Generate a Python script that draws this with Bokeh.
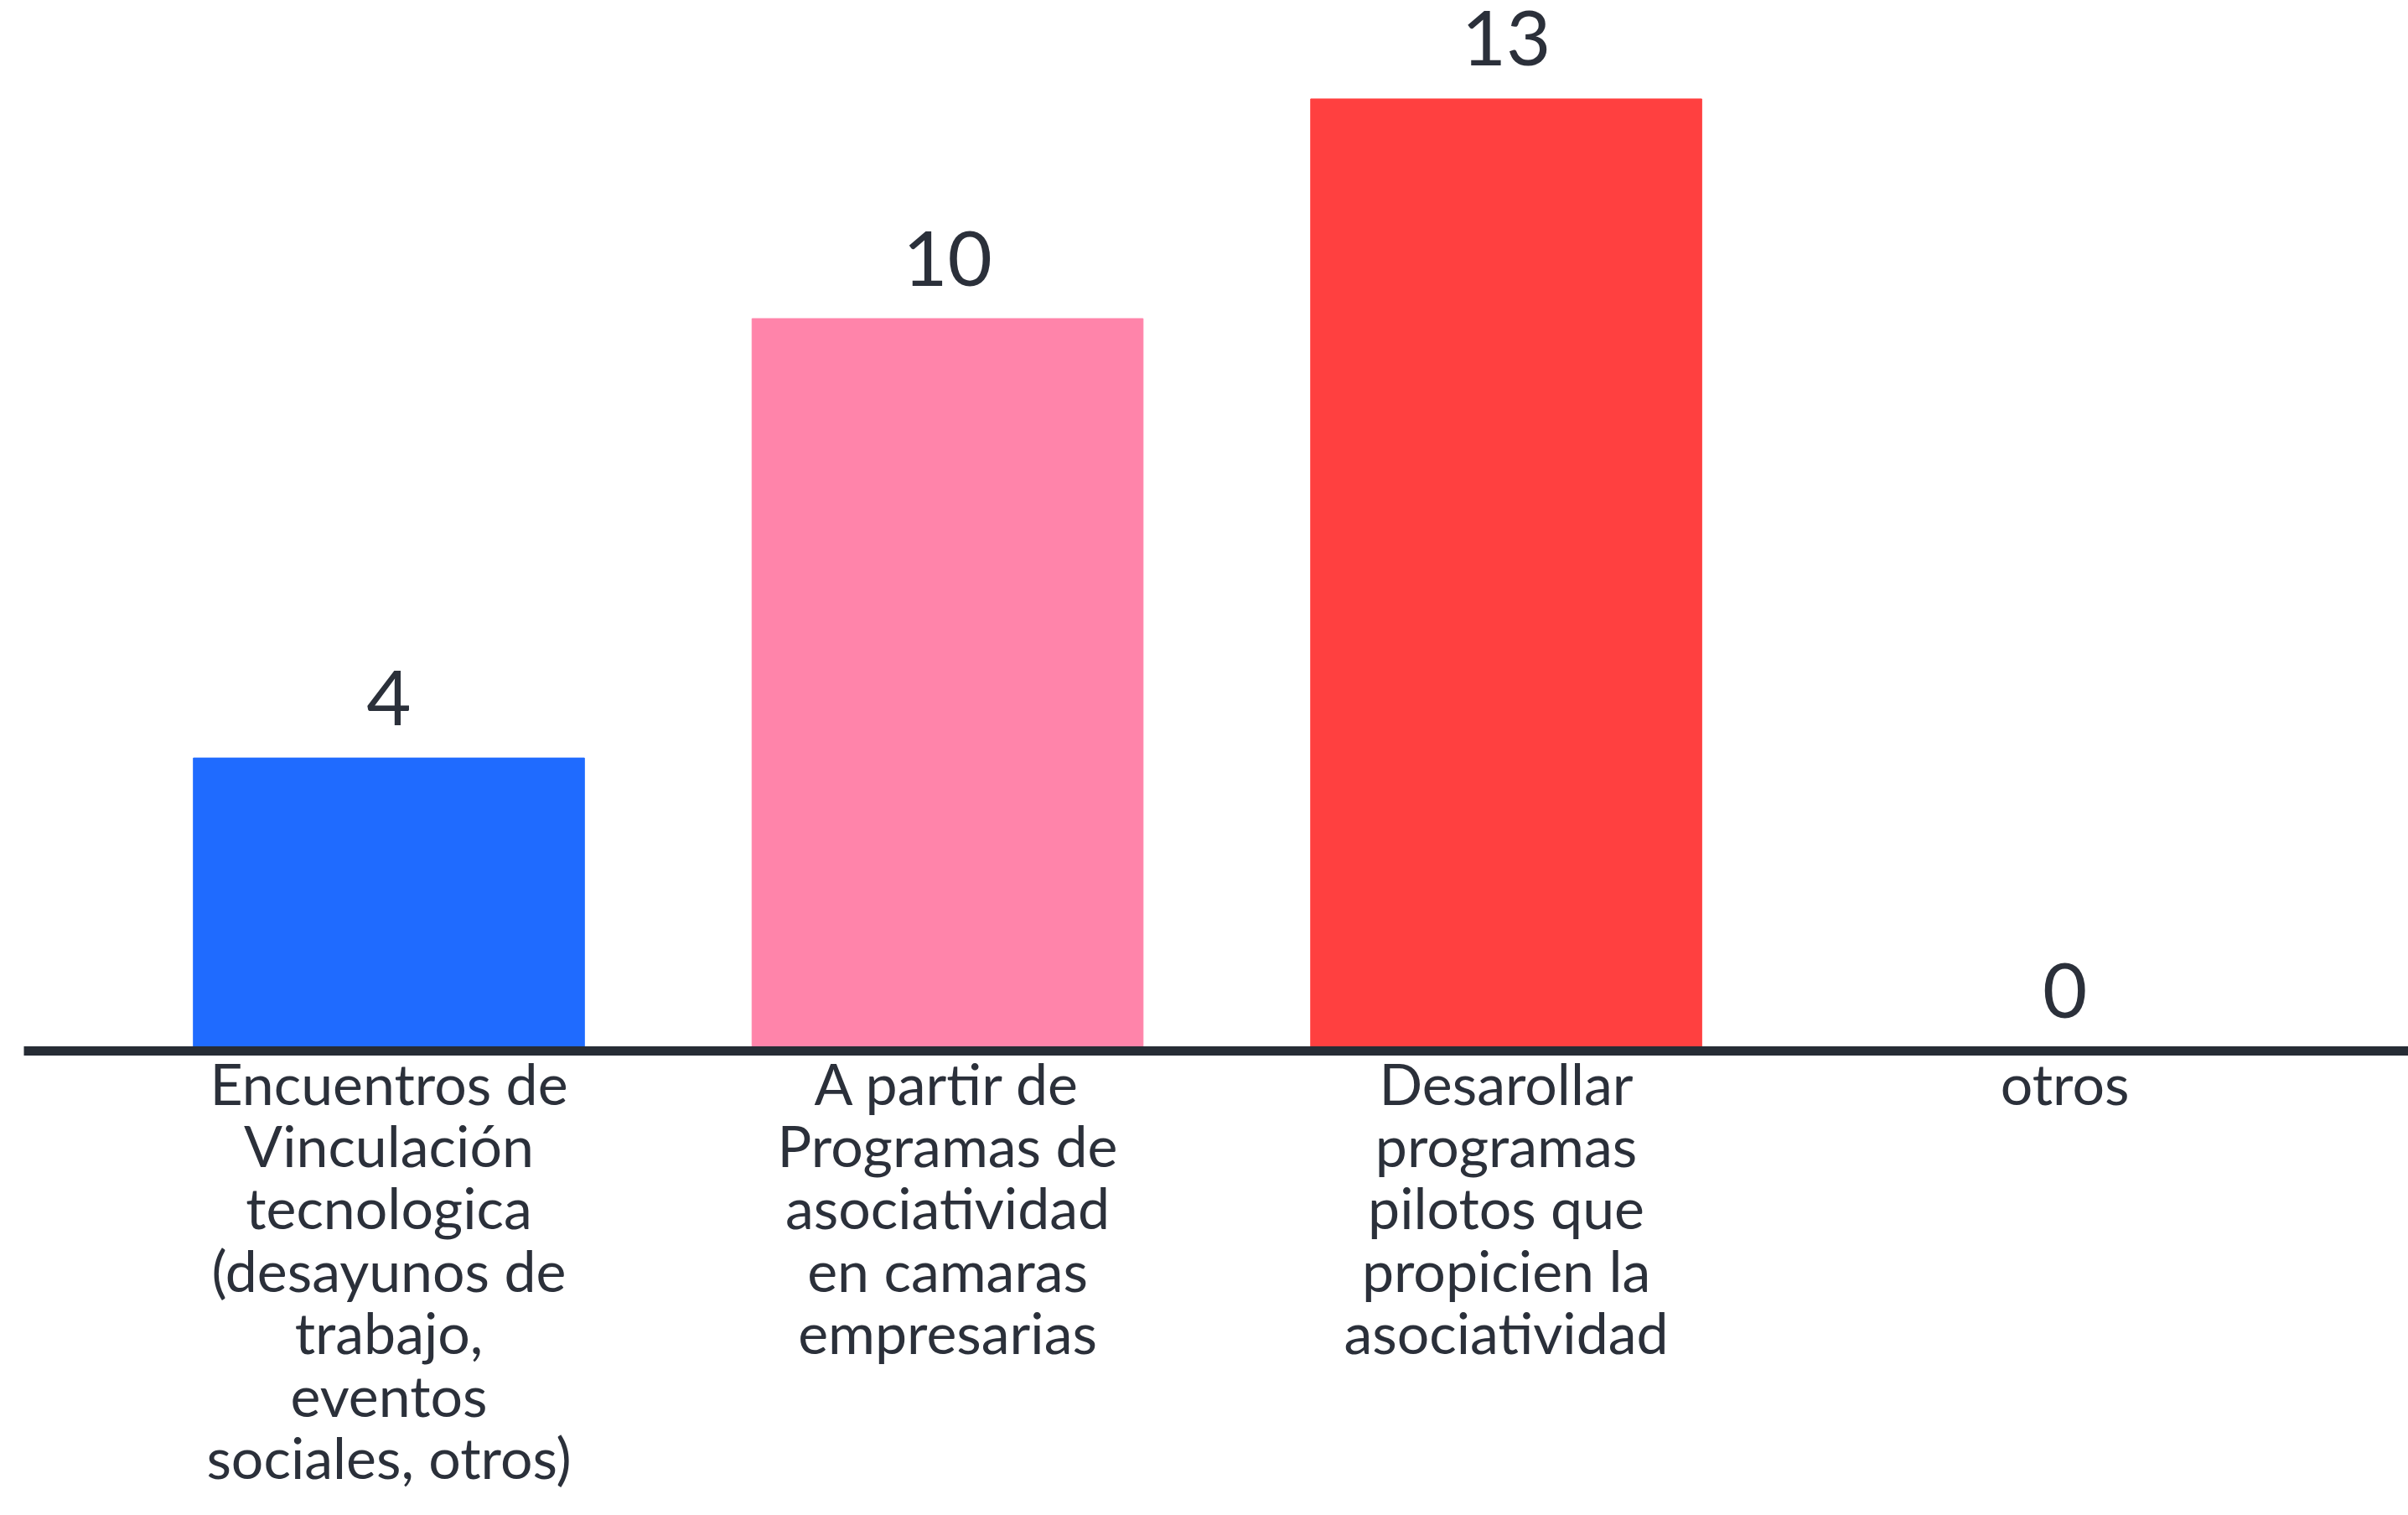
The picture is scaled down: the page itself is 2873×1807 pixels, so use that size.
from bokeh.plotting import figure
from bokeh.models import ColumnDataSource, Range1d, FixedTicker
from bokeh.core.properties import value
from bokeh.embed import file_html
from bokeh.resources import INLINE

categories = [
    "Encuentros de\nVinculación\ntecnologica\n(desayunos de\ntrabajo,\neventos\nsociales, otros)",
    "A partir de\nProgramas de\nasociatividad\nen camaras\nempresarias",
    "Desarollar\nprogramas\npilotos que\npropicien la\nasociatividad",
    "otros",
]
values = [4, 10, 13, 0]
colors = ["#1f6bff", "#ff84aa", "#ff4040", "#ff4040"]

FONT = "Lato"
TEXT_COLOR = "#2b303a"

xs = list(range(len(categories)))
src = ColumnDataSource(dict(x=xs, top=values, color=colors,
                            label=[str(v) for v in values]))

p = figure(width=2873, height=1807, output_backend="svg", toolbar_location=None,
           x_range=Range1d(-0.6534, 3.615), y_range=Range1d(0, 14.345),
           min_border_left=28, min_border_right=0, min_border_top=0,
           min_border_bottom=554)

p.vbar(x="x", top="top", bottom=0, width=0.7, color="color", source=src)
p.text(x="x", y="top", text="label", source=src, text_align="center",
       text_baseline="alphabetic", y_offset=-72, text_font=value(FONT),
       text_font_size="92px", text_color=TEXT_COLOR)

p.xaxis.ticker = FixedTicker(ticks=xs)
p.xaxis.major_label_overrides = {i: c for i, c in zip(xs, categories)}
p.xaxis.major_label_text_font = FONT
p.xaxis.major_label_text_font_size = "68px"
p.xaxis.major_label_text_line_height = 0.919
p.xaxis.major_label_text_color = TEXT_COLOR
p.xaxis.major_label_standoff = -3
p.xaxis.major_tick_out = 0
p.xaxis.major_tick_in = 0
p.xaxis.minor_tick_out = 0
p.xaxis.minor_tick_in = 0
p.xaxis.major_tick_line_color = None
p.xaxis.minor_tick_line_color = None
p.xaxis.axis_line_color = "#262c35"
p.xaxis.axis_line_width = 11
p.yaxis.visible = False
p.xgrid.visible = False
p.ygrid.visible = False
p.outline_line_color = None
p.background_fill_color = "white"
p.border_fill_color = "white"

open("out.html", "w").write(file_html(p, INLINE))
